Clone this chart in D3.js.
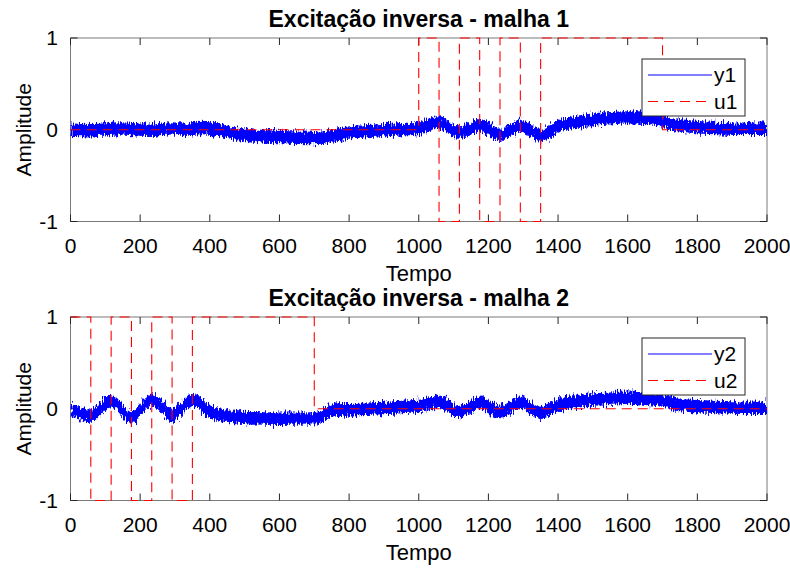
<!DOCTYPE html>
<html><head><meta charset="utf-8">
<script src="https://cdn.jsdelivr.net/npm/d3@7"></script>
<style>
body{margin:0;background:#fff}
text{font-family:"Liberation Sans",Arial,Helvetica,sans-serif;fill:#000}
</style>
</head><body>
<svg id="chart" width="790" height="568"></svg>
<script>
// ---------------- data ----------------
const xTicks = [0, 200, 400, 600, 800, 1000, 1200, 1400, 1600, 1800, 2000];
const yTicks = [-1, 0, 1];
const titles = ["Excitação inversa - malha 1", "Excitação inversa - malha 2"];
const xLabel = "Tempo";
const yLabel = "Amplitude";
const legendNames1 = ["y1", "u1"];
const legendNames2 = ["y2", "u2"];

// excitation (step signals): level holds from time[i] to time[i+1]
const u1Times  = [0, 1000, 1058.3, 1116.7, 1175, 1233.3, 1291.7, 1350, 1700, 2000];
const u1Levels = [0, 1, -1, 1, -1, 1, -1, 1, 0, 0];
const u2Times  = [0, 58.3, 116.7, 175, 233.3, 291.7, 350, 700, 2000];
const u2Levels = [1, -1, 1, -1, 1, -1, 1, 0, 0];

// outputs: centre of the noisy band
const y1Times = [0, 60, 140, 220, 290, 330, 380, 420, 470, 530, 600, 700, 730, 780, 850, 950, 1000,
                 1058, 1117, 1175, 1233, 1292, 1350, 1400, 1450, 1500, 1550, 1600, 1650, 1690, 1720,
                 1780, 1850, 1950, 2000];
const y1Mean  = [0.0, -0.005, 0.015, 0.0, 0.015, 0.0, 0.02, 0.0, -0.04, -0.065, -0.08, -0.09, -0.085,
                 -0.04, -0.015, 0.005, 0.02, 0.08, -0.03, 0.05, -0.055, 0.04, -0.06, 0.035, 0.085,
                 0.11, 0.125, 0.135, 0.13, 0.11, 0.07, 0.035, 0.02, 0.01, 0.01];
const y2Times = [0, 58, 117, 175, 233, 292, 350, 400, 450, 500, 600, 700, 730, 760, 850, 950, 1000,
                 1058, 1117, 1175, 1233, 1292, 1350, 1400, 1450, 1500, 1550, 1600, 1650, 1700, 1750,
                 1850, 2000];
const y2Mean  = [0.0, -0.075, 0.085, -0.095, 0.1, -0.07, 0.095, -0.03, -0.08, -0.1, -0.11, -0.105,
                 -0.06, -0.01, 0.0, 0.02, 0.03, 0.085, -0.035, 0.065, -0.035, 0.065, -0.045, 0.04, 0.08,
                 0.1, 0.11, 0.12, 0.11, 0.09, 0.04, 0.02, 0.01];
const noiseHalfWidth = 0.068;

// ---------------- drawing ----------------
const svg = d3.select("#chart");
const defs = svg.append("defs");
const filt = defs.append("filter").attr("id", "jag")
  .attr("x", "-2%").attr("y", "-60%").attr("width", "104%").attr("height", "220%");
filt.append("feTurbulence").attr("type", "fractalNoise").attr("baseFrequency", "0.9 0.15")
  .attr("numOctaves", 2).attr("seed", 4).attr("result", "n");
filt.append("feDisplacementMap").attr("in", "SourceGraphic").attr("in2", "n")
  .attr("scale", 11).attr("xChannelSelector", "R").attr("yChannelSelector", "G");

const panels = [
  {top: 38, bottom: 221.5, title: titles[0], yT: y1Times, yM: y1Mean, uT: u1Times, uL: u1Levels, names: legendNames1},
  {top: 317, bottom: 500.5, title: titles[1], yT: y2Times, yM: y2Mean, uT: u2Times, uL: u2Levels, names: legendNames2}
];
const left = 70.5, right = 767;
const axisCol = "#262626";

panels.forEach((p, i) => {
  const x = d3.scaleLinear().domain([0, 2000]).range([left, right]);
  const y = d3.scaleLinear().domain([-1, 1]).range([p.bottom, p.top]);
  const g = svg.append("g");

  const clipId = "clip" + i;
  defs.append("clipPath").attr("id", clipId).append("rect")
    .attr("x", left).attr("y", p.top - 1).attr("width", right - left).attr("height", p.bottom - p.top + 2);

  // axes box
  g.append("rect").attr("x", left).attr("y", p.top).attr("width", right - left).attr("height", p.bottom - p.top)
    .attr("fill", "#fff").attr("stroke", "#7a7a7a").attr("stroke-width", 1);

  // ticks (inside)
  xTicks.forEach(t => {
    g.append("line").attr("x1", x(t)).attr("x2", x(t)).attr("y1", p.bottom).attr("y2", p.bottom - 7).attr("stroke", axisCol);
    g.append("line").attr("x1", x(t)).attr("x2", x(t)).attr("y1", p.top).attr("y2", p.top + 7).attr("stroke", axisCol);
    g.append("text").attr("x", x(t)).attr("y", p.bottom + 31).attr("text-anchor", "middle")
      .attr("font-size", 21).text(d3.format("d")(t));
  });
  yTicks.forEach(v => {
    g.append("line").attr("x1", left).attr("x2", left + 7).attr("y1", y(v)).attr("y2", y(v)).attr("stroke", axisCol);
    g.append("line").attr("x1", right).attr("x2", right - 7).attr("y1", y(v)).attr("y2", y(v)).attr("stroke", axisCol);
    g.append("text").attr("x", 58).attr("y", y(v)).attr("dy", "0.35em").attr("text-anchor", "end")
      .attr("font-size", 21).text(v);
  });

  // data group
  const dg = g.append("g").attr("clip-path", `url(#${clipId})`);
  const pts = p.yT.map((t, k) => ({t: t, v: p.yM[k]}));
  const area = d3.area().x(d => x(d.t)).y0(d => y(d.v - noiseHalfWidth)).y1(d => y(d.v + noiseHalfWidth))
    .curve(d3.curveMonotoneX);
  dg.append("g").attr("filter", "url(#jag)")
    .append("path").datum(pts).attr("d", area).attr("fill", "#0000ff");

  const upts = p.uT.map((t, k) => ({t: t, v: p.uL[k]}));
  const uline = d3.line().x(d => x(d.t)).y(d => y(d.v)).curve(d3.curveStepAfter);
  g.append("path").datum(upts).attr("d", uline).attr("fill", "none")
    .attr("stroke", "#ff0000").attr("stroke-width", 1.1).attr("stroke-dasharray", "10,6");

  // titles and labels
  g.append("text").attr("x", (left + right) / 2).attr("y", p.top - 11).attr("text-anchor", "middle")
    .attr("font-size", 23).attr("font-weight", "bold").text(p.title);
  g.append("text").attr("x", (left + right) / 2).attr("y", p.bottom + 59).attr("text-anchor", "middle")
    .attr("font-size", 22).text(xLabel);
  g.append("text").attr("transform", `translate(31,${(p.top + p.bottom) / 2}) rotate(-90)`)
    .attr("text-anchor", "middle").attr("font-size", 21).text(yLabel);

  // legend
  const lx = 642, ly = p.top + 21;
  const lg = g.append("g");
  lg.append("rect").attr("x", lx).attr("y", ly).attr("width", 103).attr("height", 57)
    .attr("fill", "#fff").attr("stroke", axisCol).attr("stroke-width", 1);
  const rows = [{name: p.names[0], color: "#0000ff", dash: null}, {name: p.names[1], color: "#ff0000", dash: "10,6"}];
  rows.forEach((r, k) => {
    const yy = ly + 16 + k * 26.5;
    lg.append("line").attr("x1", lx + 6).attr("x2", lx + 70).attr("y1", yy).attr("y2", yy)
      .attr("stroke", r.color).attr("stroke-width", 1.1).attr("stroke-dasharray", r.dash);
    lg.append("text").attr("x", lx + 72).attr("y", yy).attr("dy", "0.35em").attr("font-size", 21).text(r.name);
  });
});
</script>
</body></html>
